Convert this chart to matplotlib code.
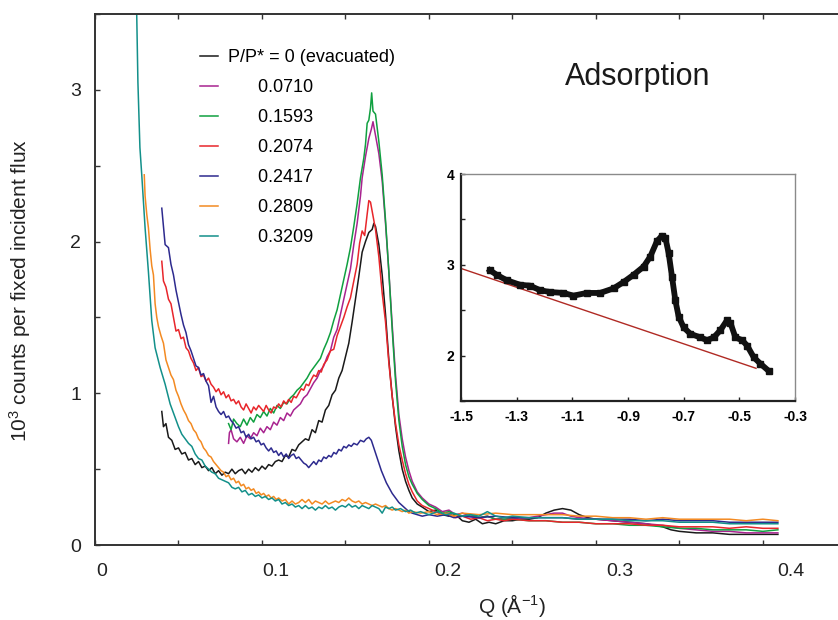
import matplotlib
matplotlib.use("Agg")
import matplotlib.pyplot as plt
from matplotlib.ticker import MultipleLocator
from matplotlib.transforms import ScaledTranslation

plt.rcParams['font.family'] = ['Liberation Sans', 'DejaVu Sans']
plt.rcParams['mathtext.fontset'] = 'custom'
plt.rcParams['mathtext.rm'] = 'Liberation Sans'
plt.rcParams['mathtext.it'] = 'Liberation Sans:italic'
plt.rcParams['axes.unicode_minus'] = False

# ---- main panel data: Q (1/A) and 10^3 counts per fixed incident flux ----
q_black = [0.040, 0.041, 0.0425, 0.044, 0.046, 0.048, 0.050, 0.052, 0.054, 0.056, 0.058, 0.060, 0.062, 0.064,
           0.066, 0.068, 0.070, 0.072, 0.074, 0.076, 0.078, 0.080, 0.082, 0.084, 0.086, 0.088, 0.090, 0.092,
           0.094, 0.096, 0.098, 0.100, 0.102, 0.104, 0.106, 0.108, 0.110, 0.112, 0.114, 0.116, 0.118, 0.120,
           0.122, 0.124, 0.126, 0.128, 0.130, 0.132, 0.134, 0.136, 0.138, 0.140, 0.142, 0.144, 0.146, 0.148,
           0.150, 0.152, 0.154, 0.156, 0.158, 0.160, 0.162, 0.164, 0.166, 0.167, 0.168, 0.170, 0.172, 0.174,
           0.176, 0.178, 0.180, 0.182, 0.184, 0.186, 0.188, 0.190, 0.193, 0.196, 0.200, 0.204, 0.208, 0.212,
           0.216, 0.220, 0.224, 0.228, 0.232, 0.236, 0.240, 0.245, 0.250, 0.255, 0.260, 0.265, 0.270, 0.275,
           0.280, 0.285, 0.290, 0.295, 0.300, 0.310, 0.320, 0.330, 0.340, 0.345, 0.350, 0.360, 0.370, 0.380,
           0.390, 0.400, 0.409]
y_black = [0.88, 0.78, 0.80, 0.71, 0.69, 0.63, 0.64, 0.60, 0.61, 0.56, 0.57, 0.53, 0.55, 0.51,
           0.52, 0.49, 0.51, 0.47, 0.49, 0.46, 0.48, 0.47, 0.50, 0.47, 0.49, 0.50, 0.47, 0.50,
           0.48, 0.51, 0.49, 0.52, 0.50, 0.53, 0.52, 0.55, 0.56, 0.55, 0.59, 0.58, 0.63, 0.62,
           0.66, 0.68, 0.70, 0.69, 0.76, 0.74, 0.82, 0.81, 0.89, 0.92, 0.99, 1.02, 1.10, 1.15,
           1.24, 1.33, 1.47, 1.62, 1.77, 1.93, 2.00, 2.06, 2.08, 2.12, 2.10, 1.98, 1.78, 1.52,
           1.22, 0.98, 0.78, 0.62, 0.50, 0.42, 0.36, 0.31, 0.27, 0.25, 0.22, 0.23, 0.20, 0.19,
           0.20, 0.16, 0.15, 0.17, 0.14, 0.15, 0.14, 0.16, 0.16, 0.17, 0.17, 0.18, 0.21, 0.23,
           0.24, 0.23, 0.20, 0.18, 0.17, 0.16, 0.15, 0.14, 0.12, 0.10, 0.09, 0.08, 0.08, 0.07,
           0.07, 0.07, 0.07]

q_magenta = [0.080, 0.0805, 0.0815, 0.083, 0.085, 0.087, 0.089, 0.091, 0.093, 0.095, 0.097, 0.099, 0.101,
             0.103, 0.105, 0.107, 0.109, 0.111, 0.113, 0.115, 0.117, 0.119, 0.121, 0.123, 0.125, 0.127,
             0.129, 0.131, 0.133, 0.135, 0.137, 0.139, 0.141, 0.143, 0.145, 0.147, 0.149, 0.151, 0.153,
             0.155, 0.157, 0.159, 0.160, 0.162, 0.164, 0.1655, 0.1665, 0.168, 0.170, 0.172, 0.174, 0.176,
             0.178, 0.180, 0.182, 0.184, 0.186, 0.188, 0.190, 0.193, 0.196, 0.200, 0.204, 0.208, 0.212,
             0.216, 0.220, 0.225, 0.230, 0.235, 0.240, 0.245, 0.250, 0.255, 0.260, 0.265, 0.270, 0.275,
             0.280, 0.285, 0.290, 0.300, 0.310, 0.320, 0.330, 0.340, 0.350, 0.360, 0.370, 0.380, 0.390,
             0.400, 0.409]
y_magenta = [0.67, 0.74, 0.76, 0.70, 0.68, 0.71, 0.67, 0.72, 0.70, 0.74, 0.72, 0.77, 0.74,
             0.78, 0.76, 0.81, 0.79, 0.84, 0.82, 0.87, 0.85, 0.89, 0.91, 0.93, 0.97, 0.99,
             1.03, 1.07, 1.10, 1.15, 1.18, 1.24, 1.28, 1.37, 1.42, 1.52, 1.62, 1.72, 1.82,
             1.98, 2.12, 2.30, 2.42, 2.56, 2.68, 2.74, 2.79, 2.70, 2.58, 2.40, 2.12, 1.80,
             1.45, 1.12, 0.86, 0.70, 0.58, 0.49, 0.42, 0.35, 0.31, 0.27, 0.25, 0.22, 0.23,
             0.20, 0.21, 0.19, 0.18, 0.19, 0.17, 0.18, 0.17, 0.18, 0.18, 0.19, 0.20, 0.21,
             0.21, 0.19, 0.18, 0.17, 0.16, 0.15, 0.14, 0.13, 0.11, 0.10, 0.09, 0.09, 0.08,
             0.08, 0.08]

q_green = [0.080, 0.0815, 0.083, 0.085, 0.087, 0.089, 0.091, 0.093, 0.095, 0.097, 0.099, 0.101, 0.103,
           0.105, 0.107, 0.109, 0.111, 0.113, 0.115, 0.117, 0.119, 0.121, 0.123, 0.125, 0.127, 0.129,
           0.131, 0.133, 0.135, 0.137, 0.139, 0.141, 0.143, 0.145, 0.147, 0.149, 0.151, 0.153, 0.155,
           0.157, 0.159, 0.161, 0.162, 0.163, 0.164, 0.165, 0.1657, 0.1665, 0.168, 0.170, 0.172, 0.174,
           0.176, 0.178, 0.180, 0.182, 0.184, 0.186, 0.188, 0.190, 0.193, 0.196, 0.200, 0.204, 0.208,
           0.212, 0.216, 0.220, 0.225, 0.230, 0.235, 0.240, 0.250, 0.260, 0.270, 0.280, 0.290, 0.300,
           0.310, 0.320, 0.330, 0.340, 0.350, 0.360, 0.370, 0.380, 0.390, 0.400, 0.409]
y_green = [0.80, 0.76, 0.83, 0.80, 0.78, 0.83, 0.79, 0.84, 0.81, 0.86, 0.84, 0.88, 0.85,
           0.90, 0.87, 0.92, 0.90, 0.94, 0.93, 0.97, 0.99, 1.02, 1.04, 1.07, 1.10, 1.14,
           1.17, 1.20, 1.23, 1.29, 1.34, 1.40, 1.48, 1.55, 1.65, 1.75, 1.85, 1.96, 2.10,
           2.25, 2.42, 2.55, 2.64, 2.78, 2.80, 2.88, 2.98, 2.86, 2.84, 2.66, 2.44, 2.14,
           1.80, 1.42, 1.08, 0.82, 0.65, 0.53, 0.45, 0.40, 0.34, 0.30, 0.26, 0.24, 0.21,
           0.22, 0.20, 0.19, 0.20, 0.18, 0.19, 0.17, 0.17, 0.16, 0.16, 0.15, 0.15, 0.14,
           0.14, 0.13, 0.13, 0.12, 0.11, 0.11, 0.10, 0.10, 0.10, 0.09, 0.10]

q_red = [0.0400, 0.0410, 0.0425, 0.0440, 0.0455, 0.0470, 0.0485, 0.0500, 0.0515, 0.0530, 0.0545, 0.0560,
         0.0575, 0.0590, 0.0605, 0.0620, 0.0635, 0.0650, 0.0665, 0.0680, 0.0695, 0.0710, 0.0725, 0.0740,
         0.0755, 0.0770, 0.0785, 0.0800, 0.0815, 0.0830, 0.0845, 0.0860, 0.0875, 0.0890, 0.0905, 0.0920,
         0.0935, 0.0950, 0.0965, 0.0980, 0.0995, 0.1010, 0.1025, 0.1040, 0.1055, 0.1070, 0.1085, 0.1100,
         0.1115, 0.1130, 0.1145, 0.1160, 0.1175, 0.1190, 0.1205, 0.1220, 0.1235, 0.1250, 0.1265, 0.1280,
         0.1295, 0.1310, 0.1325, 0.1340, 0.1355, 0.1370, 0.1390, 0.1410, 0.1430, 0.1450, 0.1470, 0.1490,
         0.1510, 0.1530, 0.1550, 0.1570, 0.1585, 0.1600, 0.1615, 0.1630, 0.1640, 0.1650, 0.1665, 0.1680,
         0.1700, 0.1720, 0.1740, 0.1760, 0.1780, 0.1800, 0.1820, 0.1840, 0.1860, 0.1880, 0.1900, 0.1930,
         0.1960, 0.2000, 0.2040, 0.2080, 0.2120, 0.2160, 0.2200, 0.2250, 0.2300, 0.2350, 0.2400, 0.2450,
         0.2500, 0.2600, 0.2700, 0.2800, 0.2900, 0.3000, 0.3100, 0.3200, 0.3300, 0.3400, 0.3500, 0.3600,
         0.3700, 0.3800, 0.3900, 0.4000, 0.4090]
y_red = [1.87, 1.74, 1.70, 1.62, 1.59, 1.50, 1.41, 1.42, 1.36, 1.37, 1.30, 1.28,
         1.23, 1.20, 1.15, 1.17, 1.11, 1.12, 1.08, 1.10, 1.06, 1.04, 1.01, 1.03,
         0.99, 1.01, 0.97, 0.99, 0.95, 0.96, 0.93, 0.95, 0.91, 0.89, 0.93, 0.90,
         0.87, 0.91, 0.89, 0.92, 0.90, 0.88, 0.92, 0.89, 0.87, 0.91, 0.90, 0.93,
         0.91, 0.95, 0.93, 0.96, 0.94, 0.98, 0.97, 1.00, 1.03, 1.02, 1.06, 1.05,
         1.09, 1.12, 1.11, 1.15, 1.14, 1.19, 1.22, 1.28, 1.29, 1.38, 1.44, 1.50,
         1.57, 1.63, 1.74, 1.85, 1.99, 2.07, 2.04, 2.18, 2.27, 2.26, 2.17, 2.08,
         1.90, 1.66, 1.47, 1.20, 0.98, 0.80, 0.66, 0.56, 0.47, 0.40, 0.35, 0.29,
         0.26, 0.24, 0.22, 0.20, 0.21, 0.18, 0.19, 0.17, 0.18, 0.16, 0.17, 0.16,
         0.17, 0.16, 0.16, 0.15, 0.15, 0.14, 0.14, 0.14, 0.13, 0.13, 0.12, 0.12,
         0.12, 0.11, 0.12, 0.11, 0.11]

q_blue = [0.0400, 0.0410, 0.0420, 0.0430, 0.0440, 0.0455, 0.0470, 0.0485, 0.0500, 0.0515, 0.0530, 0.0545,
          0.0560, 0.0575, 0.0590, 0.0605, 0.0620, 0.0635, 0.0650, 0.0665, 0.0680, 0.0695, 0.0710, 0.0725,
          0.0740, 0.0755, 0.0770, 0.0785, 0.0800, 0.0815, 0.0830, 0.0845, 0.0860, 0.0875, 0.0890, 0.0905,
          0.0920, 0.0935, 0.0950, 0.0965, 0.0980, 0.0995, 0.1010, 0.1025, 0.1040, 0.1055, 0.1070, 0.1085,
          0.1100, 0.1115, 0.1130, 0.1145, 0.1160, 0.1175, 0.1190, 0.1205, 0.1220, 0.1235, 0.1250, 0.1265,
          0.1280, 0.1295, 0.1310, 0.1325, 0.1340, 0.1355, 0.1370, 0.1385, 0.1400, 0.1415, 0.1430, 0.1445,
          0.1460, 0.1475, 0.1490, 0.1505, 0.1520, 0.1535, 0.1550, 0.1570, 0.1590, 0.1610, 0.1625, 0.1640,
          0.1655, 0.1670, 0.1685, 0.1700, 0.1715, 0.1730, 0.1745, 0.1760, 0.1780, 0.1800, 0.1820, 0.1840,
          0.1860, 0.1880, 0.1900, 0.1930, 0.1960, 0.2000, 0.2050, 0.2100, 0.2150, 0.2200, 0.2300, 0.2400,
          0.2500, 0.2600, 0.2700, 0.2800, 0.2900, 0.3000, 0.3100, 0.3200, 0.3300, 0.3400, 0.3500, 0.3600,
          0.3700, 0.3800, 0.3900, 0.4000, 0.4090]
y_blue = [2.22, 2.10, 1.98, 1.97, 1.96, 1.85, 1.78, 1.68, 1.60, 1.52, 1.45, 1.40,
          1.32, 1.28, 1.23, 1.18, 1.17, 1.12, 1.13, 1.08, 1.05, 0.94, 0.98, 0.91,
          0.88, 0.86, 0.88, 0.84, 0.85, 0.82, 0.80, 0.77, 0.78, 0.74, 0.75, 0.71,
          0.73, 0.70, 0.71, 0.68, 0.69, 0.66, 0.67, 0.64, 0.62, 0.64, 0.61, 0.62,
          0.59, 0.61, 0.58, 0.60, 0.57, 0.59, 0.60, 0.57, 0.58, 0.56, 0.54, 0.53,
          0.51, 0.53, 0.55, 0.53, 0.56, 0.55, 0.58, 0.57, 0.59, 0.58, 0.61, 0.60,
          0.63, 0.62, 0.65, 0.64, 0.66, 0.65, 0.67, 0.66, 0.69, 0.68, 0.70, 0.71,
          0.69, 0.64, 0.59, 0.54, 0.49, 0.45, 0.41, 0.38, 0.34, 0.31, 0.28, 0.26,
          0.24, 0.22, 0.21, 0.20, 0.19, 0.20, 0.19, 0.20, 0.18, 0.19, 0.18, 0.19,
          0.18, 0.18, 0.18, 0.18, 0.17, 0.17, 0.17, 0.17, 0.16, 0.17, 0.16, 0.16,
          0.16, 0.15, 0.15, 0.15, 0.15]

q_orange = [0.0295, 0.0300, 0.0310, 0.0320, 0.0330, 0.0340, 0.0350, 0.0360, 0.0370, 0.0380, 0.0395, 0.0410,
            0.0425, 0.0440, 0.0455, 0.0470, 0.0485, 0.0500, 0.0515, 0.0530, 0.0545, 0.0560, 0.0575, 0.0590,
            0.0605, 0.0620, 0.0635, 0.0650, 0.0665, 0.0680, 0.0695, 0.0710, 0.0725, 0.0740, 0.0755, 0.0770,
            0.0785, 0.0800, 0.0815, 0.0830, 0.0845, 0.0860, 0.0875, 0.0890, 0.0905, 0.0920, 0.0935, 0.0950,
            0.0965, 0.0980, 0.0995, 0.1010, 0.1025, 0.1040, 0.1055, 0.1070, 0.1085, 0.1100, 0.1120, 0.1140,
            0.1160, 0.1180, 0.1200, 0.1220, 0.1240, 0.1260, 0.1280, 0.1300, 0.1320, 0.1340, 0.1360, 0.1380,
            0.1400, 0.1420, 0.1440, 0.1460, 0.1480, 0.1500, 0.1520, 0.1540, 0.1560, 0.1580, 0.1600, 0.1620,
            0.1640, 0.1660, 0.1680, 0.1700, 0.1720, 0.1740, 0.1760, 0.1780, 0.1800, 0.1820, 0.1840, 0.1860,
            0.1880, 0.1900, 0.1950, 0.2000, 0.2050, 0.2100, 0.2150, 0.2200, 0.2300, 0.2400, 0.2500, 0.2600,
            0.2700, 0.2800, 0.2900, 0.3000, 0.3100, 0.3200, 0.3300, 0.3400, 0.3500, 0.3600, 0.3700, 0.3800,
            0.3900, 0.4000, 0.4090]
y_orange = [2.44, 2.30, 2.18, 2.09, 1.95, 1.84, 1.78, 1.59, 1.50, 1.44, 1.38, 1.33,
            1.22, 1.17, 1.12, 1.09, 1.02, 0.98, 0.93, 0.89, 0.86, 0.82, 0.80, 0.76,
            0.74, 0.70, 0.68, 0.64, 0.62, 0.59, 0.58, 0.55, 0.53, 0.51, 0.49, 0.48,
            0.45, 0.46, 0.43, 0.44, 0.41, 0.42, 0.39, 0.40, 0.37, 0.38, 0.36, 0.37,
            0.34, 0.35, 0.33, 0.34, 0.32, 0.33, 0.31, 0.32, 0.30, 0.31, 0.29, 0.30,
            0.27, 0.29, 0.27, 0.28, 0.30, 0.28, 0.30, 0.27, 0.29, 0.28, 0.27, 0.29,
            0.27, 0.28, 0.29, 0.28, 0.30, 0.29, 0.31, 0.29, 0.28, 0.29, 0.27, 0.28,
            0.27, 0.26, 0.27, 0.26, 0.25, 0.26, 0.24, 0.23, 0.24, 0.23, 0.22, 0.23,
            0.21, 0.22, 0.21, 0.22, 0.20, 0.21, 0.19, 0.21, 0.20, 0.21, 0.20, 0.20,
            0.20, 0.20, 0.19, 0.19, 0.18, 0.18, 0.17, 0.18, 0.17, 0.17, 0.17, 0.17,
            0.16, 0.17, 0.16]

q_teal = [0.0235, 0.0250, 0.0257, 0.0269, 0.0280, 0.0300, 0.0320, 0.0340, 0.0360, 0.0390, 0.0420, 0.0450,
          0.0480, 0.0500, 0.0520, 0.0540, 0.0560, 0.0580, 0.0600, 0.0620, 0.0640, 0.0660, 0.0680, 0.0700,
          0.0720, 0.0740, 0.0760, 0.0780, 0.0800, 0.0820, 0.0840, 0.0860, 0.0880, 0.0900, 0.0920, 0.0940,
          0.0960, 0.0980, 0.1000, 0.1020, 0.1040, 0.1060, 0.1080, 0.1100, 0.1120, 0.1140, 0.1160, 0.1180,
          0.1200, 0.1220, 0.1240, 0.1260, 0.1280, 0.1300, 0.1320, 0.1340, 0.1360, 0.1380, 0.1400, 0.1420,
          0.1440, 0.1460, 0.1480, 0.1500, 0.1520, 0.1540, 0.1560, 0.1580, 0.1600, 0.1620, 0.1640, 0.1660,
          0.1680, 0.1700, 0.1720, 0.1740, 0.1760, 0.1780, 0.1800, 0.1830, 0.1860, 0.1890, 0.1920, 0.1950,
          0.2000, 0.2050, 0.2100, 0.2150, 0.2200, 0.2250, 0.2300, 0.2350, 0.2400, 0.2450, 0.2500, 0.2600,
          0.2700, 0.2800, 0.2900, 0.3000, 0.3100, 0.3200, 0.3300, 0.3400, 0.3500, 0.3600, 0.3700, 0.3800,
          0.3900, 0.4000, 0.4090]
y_teal = [3.90, 3.49, 3.05, 2.62, 2.44, 2.09, 1.80, 1.48, 1.30, 1.17, 1.06, 0.93,
          0.84, 0.78, 0.73, 0.70, 0.67, 0.65, 0.60, 0.57, 0.56, 0.52, 0.50, 0.48,
          0.47, 0.44, 0.43, 0.42, 0.41, 0.38, 0.37, 0.38, 0.35, 0.36, 0.33, 0.34,
          0.32, 0.33, 0.31, 0.32, 0.30, 0.31, 0.29, 0.30, 0.27, 0.28, 0.26, 0.27,
          0.25, 0.26, 0.24, 0.26, 0.24, 0.25, 0.23, 0.25, 0.24, 0.26, 0.24, 0.25,
          0.23, 0.25, 0.26, 0.25, 0.27, 0.25, 0.26, 0.24, 0.26, 0.25, 0.24, 0.26,
          0.25, 0.24, 0.21, 0.25, 0.24, 0.25, 0.23, 0.24, 0.22, 0.23, 0.21, 0.22,
          0.20, 0.22, 0.20, 0.21, 0.19, 0.20, 0.19, 0.22, 0.19, 0.18, 0.19, 0.18,
          0.18, 0.18, 0.17, 0.17, 0.17, 0.16, 0.16, 0.16, 0.15, 0.15, 0.15, 0.14,
          0.14, 0.14, 0.14]

series = [
    (q_black, y_black, '#1a1a1a', 'P/P* = 0 (evacuated)'),
    (q_magenta, y_magenta, '#a8238f', '      0.0710'),
    (q_green, y_green, '#10a040', '      0.1593'),
    (q_red, y_red, '#e8262b', '      0.2074'),
    (q_blue, y_blue, '#2d2a8e', '      0.2417'),
    (q_orange, y_orange, '#f38a22', '      0.2809'),
    (q_teal, y_teal, '#13908a', '      0.3209'),
]

# ---- inset data ----
x_inset = [-1.396, -1.372, -1.336, -1.288, -1.252, -1.216, -1.180, -1.132, -1.096, -1.048, -1.000,
           -0.952, -0.916, -0.880, -0.844, -0.820, -0.796, -0.778, -0.766, -0.754, -0.742, -0.730,
           -0.718, -0.700, -0.676, -0.640, -0.616, -0.592, -0.568, -0.544, -0.532, -0.514, -0.490,
           -0.472, -0.448, -0.424, -0.394]
y_inset = [2.94, 2.89, 2.83, 2.78, 2.77, 2.72, 2.70, 2.69, 2.66, 2.69, 2.69,
           2.74, 2.81, 2.89, 2.98, 3.09, 3.26, 3.32, 3.30, 3.13, 2.87, 2.61,
           2.43, 2.31, 2.24, 2.20, 2.17, 2.20, 2.28, 2.39, 2.36, 2.20, 2.17,
           2.11, 1.98, 1.91, 1.83]
x_base = [-1.50, -0.44]
y_base = [2.96, 1.86]

W, H = 838, 620
fig = plt.figure(figsize=(W / 100, H / 100), dpi=100)
ax = fig.add_axes([95 / W, 1 - 545 / H, 743 / W, 531 / H])

for q, y, c, lab in series:
    ax.plot(q, y, color=c, lw=1.1, label=lab)

ax.set_xlim(0, 0.445)
ax.set_ylim(0, 3.5)
ax.spines['right'].set_visible(False)
for s in ['left', 'bottom', 'top']:
    ax.spines[s].set_color('#333333')
    ax.spines[s].set_linewidth(1.4)

ax.set_xticks([0, 0.1, 0.2, 0.3, 0.4])
ax.set_xticklabels(['0', '0.1', '0.2', '0.3', '0.4'])
ax.xaxis.set_minor_locator(MultipleLocator(0.05))
ax.set_yticks([0, 1, 2, 3])
ax.yaxis.set_minor_locator(MultipleLocator(0.5))
ax.tick_params(which='both', direction='in', top=True, right=False, length=3.5, width=1, color='#333333')
ax.tick_params(axis='x', pad=13, labelsize=14, labelcolor='#222222')
ax.tick_params(axis='y', pad=10, labelsize=14, labelcolor='#222222')

# tick labels sit slightly right of their ticks in the original
for lab, dx in zip(ax.get_xticklabels(), [6.7, 13.5, 19, 23.7, 28.5]):
    lab.set_transform(lab.get_transform() + ScaledTranslation(dx / 100, 0, fig.dpi_scale_trans))

ax.set_ylabel('10$^3$ counts per fixed incident flux', fontsize=15, color='#222222')
ax.yaxis.set_label_coords(-0.083, 0.48)
ax.set_xlabel('Q (Å$^{-1}$)', fontsize=15, color='#222222')
ax.xaxis.set_label_coords(0.561, -0.088)

ax.legend(loc='upper left', bbox_to_anchor=(0.1413, 0.934), frameon=False, fontsize=13,
          handlelength=1.0, handletextpad=0.54, labelspacing=0.72, borderpad=0, borderaxespad=0)

ax.text(0.731, 0.866, 'Adsorption', transform=ax.transAxes, fontsize=22, ha='center',
        va='baseline', color='#1a1a1a')

# ---- inset ----
ins = fig.add_axes([461 / W, 1 - 401 / H, 334 / W, 227 / H])
ins.plot(x_base, y_base, color='#b02a24', lw=1.0)
ins.plot(x_inset, y_inset, color='#111111', lw=4.2, marker='s', ms=5)
ins.set_xlim(-1.5, -0.3)
ins.set_ylim(1.5, 4)
ins.set_xticks([-1.5, -1.3, -1.1, -0.9, -0.7, -0.5, -0.3])
ins.set_xticklabels(['-1.5', '-1.3', '-1.1', '-0.9', '-0.7', '-0.5', '-0.3'])
ins.set_yticks([2, 3, 4])
ins.yaxis.set_minor_locator(MultipleLocator(0.5))
ins.tick_params(which='both', direction='in', length=3, width=1, color='#222222')
ins.tick_params(axis='x', pad=6.5, labelsize=10)
ins.tick_params(axis='y', pad=5, labelsize=10)
for lab in ins.get_xticklabels() + ins.get_yticklabels():
    lab.set_fontweight('bold')
for s in ['left', 'bottom']:
    ins.spines[s].set_color('#222222')
    ins.spines[s].set_linewidth(1.6)
for s in ['top', 'right']:
    ins.spines[s].set_color('#8a8a8a')
    ins.spines[s].set_linewidth(1.0)

fig.savefig('out.png', dpi=100)
